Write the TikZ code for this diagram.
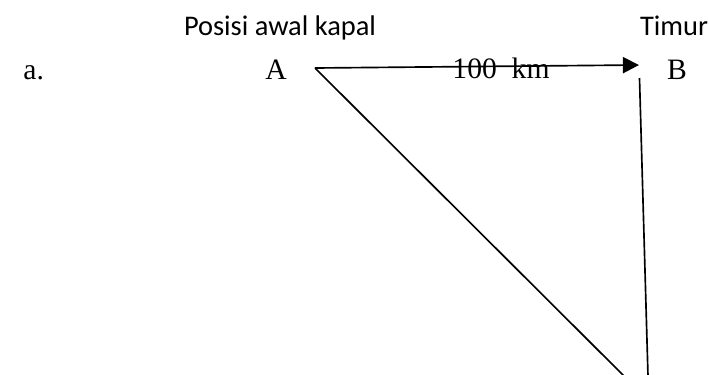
\documentclass[tikz,border=0pt]{standalone}
\usepackage{fontspec}
\setmainfont{Liberation Serif}
\newfontfamily\carlito{Carlito}
\usetikzlibrary{arrows.meta, positioning}
\tikzset{
  % teks keterangan (sans)
  lbl/.style={font=\carlito\fontsize{12}{14}\selectfont, inner sep=0pt, anchor=base},
  % huruf titik dan jarak (serif)
  ptlbl/.style={font=\fontsize{12.5}{14}\selectfont, inner sep=0pt, anchor=base},
  % garis lintasan
  track/.style={line width=0.7pt, black},
  trackarrow/.style={track, -{Triangle[length=6.8pt, width=6.8pt]}},
}
\begin{document}
\begin{tikzpicture}[x=0.422pt, y=-0.422pt]
  \useasboundingbox (0,0) rectangle (709,374);
  % keterangan atas
  \node[lbl] (posisi) at (280,35) {Posisi awal kapal};
  \node[lbl] (timur) at (674,35) {Timur};
  % titik-titik
  \node[ptlbl, anchor=base west] (soal) at (23,79) {a.};
  \node[ptlbl] (A) at (276,79) {A};
  \node[ptlbl] (B) at (677,79) {B};
  % sudut lintasan
  \coordinate (start) at (315,68);
  \coordinate (tip) at (639,65);
  \coordinate (belok) at (639.5,78);
  \coordinate (bawahB) at (648,376);
  \coordinate (bawahA) at (624,376);
  % lintasan kapal
  \draw[trackarrow] (start) -- (tip);
  \node[ptlbl] (jarak) at (501,78) {100\ \ km};
  \draw[track] (start) -- (bawahA);
  \draw[track] (belok) -- (bawahB);
\end{tikzpicture}
\end{document}
